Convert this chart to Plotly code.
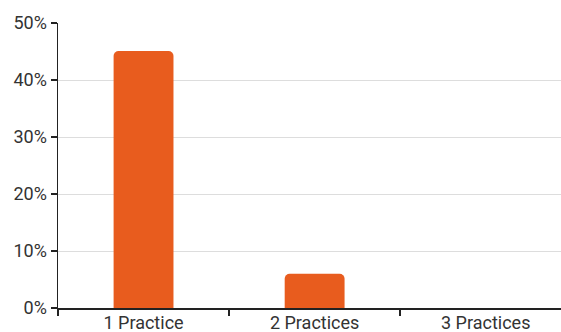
import plotly.graph_objects as go

categories = ["1 Practice", "2 Practices", "3 Practices"]
values = [45.1, 6.0, 0.0]
y_ticks = [0, 10, 20, 30, 40, 50]
y_tick_labels = ["0%", "10%", "20%", "30%", "40%", "50%"]

fig = go.Figure(go.Bar(
    x=categories, y=values,
    marker=dict(color="#E85C1E", cornerradius=5, line=dict(width=0)),
    width=0.35,
))
fig.update_layout(
    width=561, height=332,
    margin=dict(l=58, r=0, t=23, b=24, autoexpand=False),
    paper_bgcolor="white", plot_bgcolor="white",
    font=dict(family="Roboto, sans-serif", size=18, color="#333333"),
    showlegend=False,
)
fig.update_xaxes(
    range=[-0.5, 2.44], showgrid=False, showline=True, linecolor="#222", linewidth=1.5,
    ticks="outside", tickson="boundaries", ticklen=6, tickcolor="#222", tickwidth=1.5,
    fixedrange=True, automargin=False, ticklabelstandoff=-2,
)
fig.update_yaxes(
    range=[0, 50], tickvals=y_ticks, ticktext=y_tick_labels, showgrid=True, gridcolor="#dddddd",
    showline=True, linecolor="#222", linewidth=1.5, ticks="outside", ticklen=6,
    tickcolor="#222", tickwidth=1.5, zeroline=False, fixedrange=True, automargin=False,
    ticklabelstandoff=0,
)
fig.write_html(
    "out.html",
    config={"displayModeBar": False, "staticPlot": True},
    post_script="document.body.style.margin='0';document.body.style.overflow='hidden';",
)
